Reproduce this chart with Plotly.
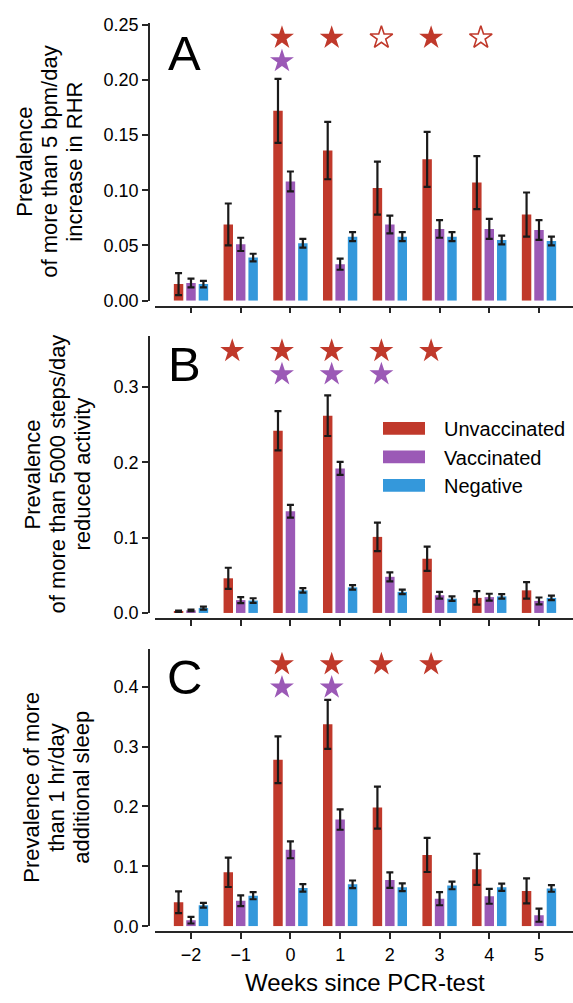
import plotly.graph_objects as go

# ---------------- data ----------------
weeks = [-2, -1, 0, 1, 2, 3, 4, 5]
week_ticks = ["\u22122", "\u22121", "0", "1", "2", "3", "4", "5"]
groups = ["Unvaccinated", "Vaccinated", "Negative"]

# Panel A: >5 bpm/day increase in RHR
rhr_unvacc = [0.015, 0.069, 0.172, 0.136, 0.102, 0.128, 0.107, 0.078]
rhr_unvacc_err = [0.010, 0.019, 0.029, 0.026, 0.024, 0.025, 0.024, 0.020]
rhr_vacc = [0.016, 0.051, 0.108, 0.033, 0.069, 0.065, 0.065, 0.064]
rhr_vacc_err = [0.004, 0.006, 0.009, 0.005, 0.008, 0.008, 0.009, 0.009]
rhr_neg = [0.015, 0.039, 0.052, 0.058, 0.058, 0.058, 0.055, 0.054]
rhr_neg_err = [0.003, 0.0035, 0.004, 0.004, 0.004, 0.004, 0.004, 0.004]

# Panel B: >5000 steps/day reduced activity
steps_unvacc = [0.002, 0.046, 0.242, 0.262, 0.101, 0.072, 0.020, 0.030]
steps_unvacc_err = [0.001, 0.014, 0.026, 0.027, 0.019, 0.016, 0.009, 0.011]
steps_vacc = [0.0035, 0.017, 0.135, 0.192, 0.048, 0.0235, 0.021, 0.016]
steps_vacc_err = [0.001, 0.004, 0.0085, 0.0087, 0.006, 0.0045, 0.0045, 0.0045]
steps_neg = [0.0065, 0.0165, 0.030, 0.034, 0.028, 0.019, 0.022, 0.020]
steps_neg_err = [0.002, 0.003, 0.003, 0.003, 0.003, 0.003, 0.003, 0.003]

# Panel C: >1 hr/day additional sleep
sleep_unvacc = [0.040, 0.090, 0.278, 0.337, 0.198, 0.119, 0.095, 0.059]
sleep_unvacc_err = [0.018, 0.0245, 0.039, 0.041, 0.035, 0.0285, 0.026, 0.021]
sleep_vacc = [0.010, 0.0425, 0.1275, 0.178, 0.077, 0.046, 0.050, 0.0185]
sleep_vacc_err = [0.0055, 0.009, 0.014, 0.017, 0.013, 0.011, 0.0125, 0.011]
sleep_neg = [0.035, 0.051, 0.064, 0.070, 0.065, 0.068, 0.065, 0.063]
sleep_neg_err = [0.004, 0.006, 0.0063, 0.0063, 0.0065, 0.0063, 0.006, 0.0055]

# significance stars (weeks)
rhr_star_unvacc = [0, 1, 3]
rhr_star_unvacc_open = [2, 4]
rhr_star_vacc = [0]
steps_star_unvacc = [-1, 0, 1, 2, 3]
steps_star_unvacc_open = []
steps_star_vacc = [0, 1, 2]
sleep_star_unvacc = [0, 1, 2, 3]
sleep_star_unvacc_open = []
sleep_star_vacc = [0, 1]

x_title = "Weeks since PCR-test"

# ---------------- style ----------------
W, H = 573, 1003
RED, PURPLE, BLUE = "#c0392b", "#9b59b6", "#3498db"
colors = [RED, PURPLE, BLUE]
FONT = "Liberation Sans, Arial, Helvetica, sans-serif"
AX = "#262626"


def fx(px):
    return px / W


def fy(py):
    return 1 - py / H


panels = [
    dict(vals=[rhr_unvacc, rhr_vacc, rhr_neg],
         errs=[rhr_unvacc_err, rhr_vacc_err, rhr_neg_err],
         stars=(rhr_star_unvacc, rhr_star_unvacc_open, rhr_star_vacc),
         top=15, bottom=298, xline=304, ymax=0.2518,
         ticks=[0, 0.05, 0.10, 0.15, 0.20, 0.25], fmt=".2f",
         title=["Prevalence", "of more than 5 bpm/day", "increase in RHR"],
         tx=50, letter="A", lx=184, ly=46),
    dict(vals=[steps_unvacc, steps_vacc, steps_neg],
         errs=[steps_unvacc_err, steps_vacc_err, steps_neg_err],
         stars=(steps_star_unvacc, steps_star_unvacc_open, steps_star_vacc),
         top=334, bottom=616, xline=622, ymax=0.3678,
         ticks=[0, 0.1, 0.2, 0.3], fmt=".1f",
         title=["Prevalence", "of more than 5000 steps/day", "reduced activity"],
         tx=57, letter="B", lx=184, ly=362),
    dict(vals=[sleep_unvacc, sleep_vacc, sleep_neg],
         errs=[sleep_unvacc_err, sleep_vacc_err, sleep_neg_err],
         stars=(sleep_star_unvacc, sleep_star_unvacc_open, sleep_star_vacc),
         top=653, bottom=935, xline=941, ymax=0.4623,
         ticks=[0, 0.1, 0.2, 0.3, 0.4], fmt=".1f",
         title=["Prevalence of more", "than 1 hr/day", "additional sleep"],
         tx=57, letter="C", lx=184, ly=681),
]

BAR_W = 0.19
OFFS = [-0.25, 0.0, 0.25]
STAR_DX = -0.17
LINE_GAP = 25

fig = go.Figure()
annotations = []
shapes = []
layout_axes = {}

for i, p in enumerate(panels):
    n = "" if i == 0 else str(i + 1)
    xa, ya = "x" + n, "y" + n
    for g in range(3):
        fig.add_trace(go.Bar(
            x=weeks, y=p["vals"][g], name=groups[g],
            xaxis=xa, yaxis=ya,
            width=BAR_W, offset=OFFS[g] - BAR_W / 2,
            marker=dict(color=colors[g], line=dict(width=0)),
            error_y=dict(type="data", array=p["errs"][g], visible=True,
                         color="#1a1a1a", thickness=2.2, width=3.5),
            showlegend=False,
        ))
    s_unv, s_unv_open, s_vac = p["stars"]
    ymax = p["ymax"]
    if s_unv:
        fig.add_trace(go.Scatter(
            x=[w + STAR_DX for w in s_unv], y=[0.946 * ymax] * len(s_unv),
            mode="markers", xaxis=xa, yaxis=ya, showlegend=False,
            marker=dict(symbol="star", size=18, color=RED, line=dict(width=0))))
    if s_unv_open:
        fig.add_trace(go.Scatter(
            x=[w + STAR_DX for w in s_unv_open], y=[0.946 * ymax] * len(s_unv_open),
            mode="markers", xaxis=xa, yaxis=ya, showlegend=False,
            marker=dict(symbol="star-open", size=17, color=RED, line=dict(width=1.6, color=RED))))
    if s_vac:
        fig.add_trace(go.Scatter(
            x=[w + STAR_DX for w in s_vac], y=[0.862 * ymax] * len(s_vac),
            mode="markers", xaxis=xa, yaxis=ya, showlegend=False,
            marker=dict(symbol="star", size=18, color=PURPLE, line=dict(width=0))))

    layout_axes["xaxis" + n] = dict(
        domain=[fx(155), 1], range=[-2.724, 5.684], anchor="free",
        position=fy(p["xline"]), tickvals=weeks, ticktext=week_ticks,
        showticklabels=(i == 2), ticks="outside", ticklen=6, tickwidth=1.6,
        tickcolor=AX, showline=True, linewidth=1.6, linecolor=AX,
        showgrid=False, zeroline=False, fixedrange=True,
        tickfont=dict(size=18, color="black", family=FONT),
    )
    layout_axes["yaxis" + n] = dict(
        domain=[fy(p["bottom"]), fy(p["top"])], range=[0, ymax],
        anchor="free", position=fx(149), tickvals=p["ticks"],
        tickformat=p["fmt"], ticks="outside", ticklen=6, tickwidth=1.6,
        tickcolor=AX, showline=True, linewidth=1.6, linecolor=AX,
        showgrid=False, zeroline=False, fixedrange=True,
        tickfont=dict(size=18, color="black", family=FONT),
    )
    ymid = fy((p["top"] + p["bottom"]) / 2)
    for k, line in enumerate(p["title"]):
        annotations.append(dict(
            text=line, x=fx(p["tx"] + (k - 1) * LINE_GAP), y=ymid,
            xref="paper", yref="paper", xanchor="center", yanchor="middle",
            textangle=-90, showarrow=False,
            font=dict(size=22, color="black", family=FONT)))
    annotations.append(dict(
        text=p["letter"], x=fx(p["lx"]), y=fy(p["ly"]),
        xref="paper", yref="paper", xanchor="center", yanchor="middle",
        showarrow=False, font=dict(size=49, color="black", family=FONT)))

# x-axis title of the bottom panel
annotations.append(dict(
    text=x_title, x=fx(365), y=fy(992), xref="paper", yref="paper",
    xanchor="center", yanchor="middle", showarrow=False,
    font=dict(size=24, color="black", family=FONT)))

# legend (drawn in panel B)
leg_rows = [428, 457, 486]
for g in range(3):
    cy = leg_rows[g]
    shapes.append(dict(type="rect", xref="paper", yref="paper",
                       x0=fx(383), x1=fx(425), y0=fy(cy + 6.5), y1=fy(cy - 6.5),
                       fillcolor=colors[g], line=dict(width=0)))
    annotations.append(dict(text=groups[g], x=fx(442), y=fy(cy + 1),
                            xref="paper", yref="paper", xanchor="left",
                            yanchor="middle", showarrow=False,
                            font=dict(size=20, color="black", family=FONT)))

fig.update_layout(
    width=W, height=H, margin=dict(l=0, r=0, t=0, b=0),
    paper_bgcolor="white", plot_bgcolor="white",
    barmode="overlay", showlegend=False,
    font=dict(family=FONT, color="black"),
    annotations=annotations, shapes=shapes,
    **layout_axes,
)

fig.write_html(
    "out.html",
    config={"displayModeBar": False},
    post_script="document.body.style.margin='0px';document.body.style.overflow='hidden';",
)
